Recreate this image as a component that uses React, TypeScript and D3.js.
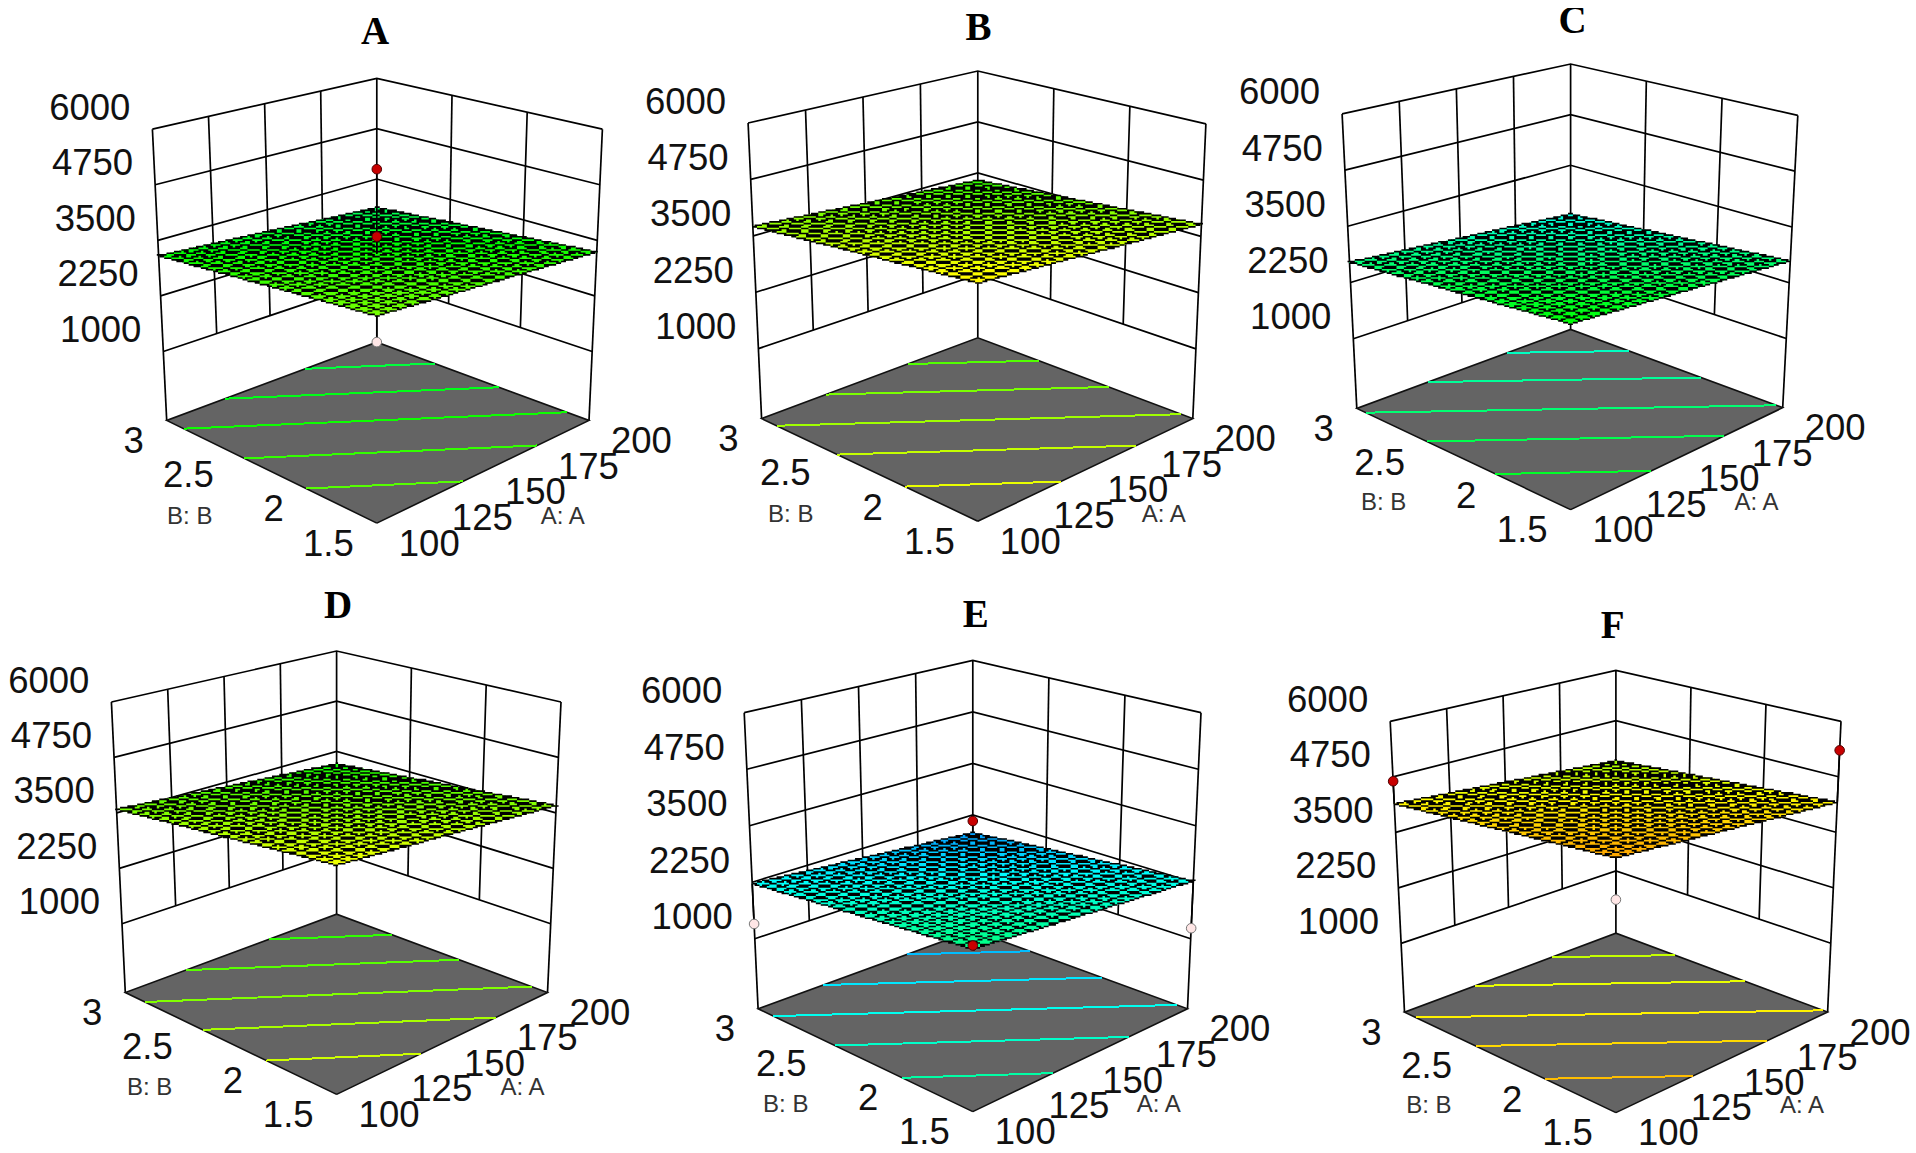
import React from "react";
import * as d3 from "d3";

// ---------- data ----------
const panelNames = ["A", "B", "C", "D", "E", "F"];
const zTicks = [1000, 2250, 3500, 4750, 6000];
const aTicks = [100, 125, 150, 175, 200];
const bTicks = [1.5, 2, 2.5, 3];
const bTickLabels = ["1.5", "2", "2.5", "3"];
const aTitle = "A: A";
const bTitle = "B: B";

// response surface height at the four corners of the A/B square
const zAtA100B15 = [3600, 4158, 3142, 4055, 2672, 4561];
const zAtA200B15 = [3238, 3767, 2737, 3664, 2276, 4173];
const zAtA100B3 = [3156, 3710, 2704, 3582, 2219, 4140];
const zAtA200B3 = [2794, 3319, 2299, 3191, 1823, 3752];

const contourA = [2927, 3064, 3197, 3336, 3465];
const contourB = [3456, 3603, 3745, 3880, 4019];
const contourC = [2430, 2580, 2725, 2860, 3001];
const contourD = [3327, 3480, 3632, 3771, 3912];
const contourE = [1955, 2109, 2256, 2396, 2537];
const contourF = [3879, 4020, 4165, 4294, 4431];
const contourLevels = [contourA, contourB, contourC, contourD, contourE, contourF];

// design points: [A, B, response]
const pointsA = [[150, 2.25, 5100], [150, 2.25, 3584], [150, 2.25, 1211]];
const pointsB: number[][] = [];
const pointsC: number[][] = [];
const pointsD: number[][] = [];
const pointsE = [[200, 3, 2103], [100, 1.5, 2743], [100, 3, 1327], [200, 1.5, 1232]];
const pointsF = [[100, 3, 4650], [200, 1.5, 5345], [150, 2.25, 1983]];
const designPoints = [pointsA, pointsB, pointsC, pointsD, pointsE, pointsF];

const colorStops = [1250, 2200, 3150, 4100, 5400];
const colorNames = ["#0000ff", "#00ffff", "#00ff00", "#ffff00", "#ff0000"];

// ---------- layout (pixels) ----------
type Pt = [number, number];
interface Frame {
  cx: number; topBack: number; floorBack: number; front: number;
  lt: Pt; rt: Pt; lf: Pt; rf: Pt; titleX: number; titleY: number;
}
const frames: Frame[] = [
  { cx: 376.8, topBack: 78.3, floorBack: 342.2, front: 523.1, lt: [152.4, 129.2], rt: [602.4, 129.2], lf: [166.7, 420.4], rf: [589, 420.4], titleX: 375, titleY: 30 },
  { cx: 977.8, topBack: 71, floorBack: 337.8, front: 521.2, lt: [748.1, 123], rt: [1205.9, 123.8], lf: [761.6, 418.6], rf: [1192.8, 418.6], titleX: 978.6, titleY: 26 },
  { cx: 1570.6, topBack: 64, floorBack: 329.4, front: 509.6, lt: [1342.1, 113.9], rt: [1797.8, 115.4], lf: [1356.8, 408.4], rf: [1782.7, 407.7], titleX: 1572.6, titleY: 19 },
  { cx: 336.6, topBack: 651, floorBack: 914.2, front: 1094.4, lt: [111.4, 702], rt: [561, 702], lf: [125.3, 992.5], rf: [547.5, 992.5], titleX: 338, titleY: 604.5 },
  { cx: 972.8, topBack: 660.4, floorBack: 930.4, front: 1111.6, lt: [744.2, 712.7], rt: [1201, 712.7], lf: [758.1, 1008.8], rf: [1187.5, 1008.8], titleX: 975.7, titleY: 613.5 },
  { cx: 1615.9, topBack: 670.4, floorBack: 933.2, front: 1112.6, lt: [1390.2, 721.3], rt: [1841, 721.3], lf: [1404.5, 1012.2], rf: [1827.6, 1012], titleX: 1612.6, titleY: 624 },
];
const GRID = 21;
const MESH_PX_W = 2.45;
const MESH_PX_H = 1.65;
const W = 1916;
const H = 1153;
const SANS = "'Liberation Sans', Arial, sans-serif";
const SERIF = "'Liberation Serif', 'Times New Roman', serif";

// ---------- scales ----------
const zScale = d3.scaleLinear().domain([-550, 6000]).range([0, 1]);
const aScale = d3.scaleLinear().domain([100, 200]).range([0, 1]);
const bScale = d3.scaleLinear().domain([1.5, 3]).range([0, 1]);
const colorScale = d3.scaleLinear<string>().domain(colorStops).range(colorNames).clamp(true);

const lerp = (p: Pt, q: Pt, t: number): Pt => [p[0] + (q[0] - p[0]) * t, p[1] + (q[1] - p[1]) * t];

// unit square -> quadrilateral: (0,0), (1,0), (1,1), (0,1)
function squareToQuad(p0: Pt, p1: Pt, p2: Pt, p3: Pt) {
  const dx1 = p1[0] - p2[0], dx2 = p3[0] - p2[0], sx = p0[0] - p1[0] + p2[0] - p3[0];
  const dy1 = p1[1] - p2[1], dy2 = p3[1] - p2[1], sy = p0[1] - p1[1] + p2[1] - p3[1];
  const den = dx1 * dy2 - dx2 * dy1;
  const g = (sx * dy2 - dx2 * sy) / den;
  const h = (dx1 * sy - sx * dy1) / den;
  const a = p1[0] - p0[0] + g * p1[0], b = p3[0] - p0[0] + h * p3[0], c = p0[0];
  const d = p1[1] - p0[1] + g * p1[1], e = p3[1] - p0[1] + h * p3[1], f = p0[1];
  return (u: number, v: number): Pt => {
    const w = g * u + h * v + 1;
    return [(a * u + b * v + c) / w, (d * u + e * v + f) / w];
  };
}

const pathOf = d3.line<Pt>().x((d) => d[0]).y((d) => d[1]);

// the mesh of the original is a coarse raster of lines: step them the same way
function steppedLines(lines: [Pt, Pt][]) {
  const keys = new Set<string>();
  lines.forEach(([a, b]) => {
    const k0 = Math.floor(Math.min(a[0], b[0]) / MESH_PX_W);
    const k1 = Math.floor(Math.max(a[0], b[0]) / MESH_PX_W);
    for (let k = k0; k <= k1; k++) {
      const t = Math.max(0, Math.min(1, ((k + 0.5) * MESH_PX_W - a[0]) / (b[0] - a[0])));
      keys.add(k + "," + Math.floor((a[1] + (b[1] - a[1]) * t) / MESH_PX_H));
    }
  });
  let d = "";
  keys.forEach((s) => {
    const [k, l] = s.split(",").map(Number);
    d += `M${k * MESH_PX_W} ${l * MESH_PX_H}h${MESH_PX_W}v${MESH_PX_H}h${-MESH_PX_W}z`;
  });
  return d;
}

function Panel({ index }: { index: number }) {
  const fr = frames[index];
  const fF: Pt = [fr.cx, fr.front];
  const fB: Pt = [fr.cx, fr.floorBack];
  const tB: Pt = [fr.cx, fr.topBack];
  const sideF = (fr.lf[1] + fr.rf[1]) / 2;
  const sideT = (fr.lt[1] + fr.rt[1]) / 2;
  const tF: Pt = [fr.cx, sideT + ((sideT - fr.topBack) * (fr.front - sideF)) / (sideF - fr.floorBack)];
  const floorH = squareToQuad(fF, fr.rf, fB, fr.lf);
  const topH = squareToQuad(tF, fr.rt, tB, fr.lt);

  const z00 = zAtA100B15[index], z10 = zAtA200B15[index], z01 = zAtA100B3[index], z11 = zAtA200B3[index];
  const surf = (u: number, v: number) =>
    z00 * (1 - u) * (1 - v) + z10 * u * (1 - v) + z01 * (1 - u) * v + z11 * u * v;
  const project = (u: number, v: number, z: number): Pt => lerp(floorH(u, v), topH(u, v), zScale(z));

  // ---- walls
  const leftWall = (a: number, z: number): Pt => {
    const t = 1 - aScale(a);
    return lerp(lerp(fB, fr.lf, t), lerp(tB, fr.lt, t), zScale(z));
  };
  const rightWall = (b: number, z: number): Pt => {
    const t = 1 - bScale(b);
    return lerp(lerp(fB, fr.rf, t), lerp(tB, fr.rt, t), zScale(z));
  };
  const zMin = zTicks[0], zMax = zTicks[zTicks.length - 1];
  const wallPaths: string[] = [];
  zTicks.forEach((z) => {
    wallPaths.push(pathOf([leftWall(100, z), leftWall(200, z), rightWall(1.5, z)])!);
  });
  aTicks.slice(1, -1).forEach((a) => wallPaths.push(pathOf([leftWall(a, zMin), leftWall(a, zMax)])!));
  bTicks.slice(1, -1).forEach((b) => wallPaths.push(pathOf([rightWall(b, zMin), rightWall(b, zMax)])!));
  wallPaths.push(pathOf([fr.lf, fr.lt])!, pathOf([fr.rf, fr.rt])!, pathOf([fB, tB])!);

  // ---- surface mesh
  const ticks = d3.range(GRID + 1).map((i) => i / GRID);
  const cells: { d: string; fill: string }[] = [];
  for (let i = 0; i < GRID; i++) {
    for (let j = 0; j < GRID; j++) {
      const u0 = ticks[i], u1 = ticks[i + 1], v0 = ticks[j], v1 = ticks[j + 1];
      const ring: Pt[] = [
        project(u0, v0, surf(u0, v0)), project(u1, v0, surf(u1, v0)),
        project(u1, v1, surf(u1, v1)), project(u0, v1, surf(u0, v1)), project(u0, v0, surf(u0, v0)),
      ];
      cells.push({ d: pathOf(ring)!, fill: colorScale(surf((u0 + u1) / 2, (v0 + v1) / 2)) });
    }
  }
  const meshSegments: [Pt, Pt][] = [];
  ticks.forEach((t) => {
    meshSegments.push([project(t, 0, surf(t, 0)), project(t, 1, surf(t, 1))]);
    meshSegments.push([project(0, t, surf(0, t)), project(1, t, surf(1, t))]);
  });
  const meshPath = steppedLines(meshSegments);

  // ---- floor contours, via d3.contours on the same surface
  const n = 41;
  const values: number[] = [];
  for (let j = 0; j < n; j++) for (let i = 0; i < n; i++) values.push(surf(i / (n - 1), j / (n - 1)));
  const contourGeoms = d3.contours().size([n, n]).thresholds(contourLevels[index])(values);
  const clamp01 = (x: number) => Math.max(0, Math.min(1, x));
  const edge = (p: number[]) => p[0] <= 0.5 || p[0] >= n - 0.5 || p[1] <= 0.5 || p[1] >= n - 0.5;
  const toFloor = (p: number[]) => floorH(clamp01((p[0] - 0.5) / (n - 1)), clamp01((p[1] - 0.5) / (n - 1)));
  const contourPaths: { d: string; stroke: string }[] = [];
  contourGeoms.forEach((g) => {
    g.coordinates.forEach((poly) => poly.forEach((ring) => {
      let run: Pt[] = [];
      const flush = () => {
        if (run.length > 1) contourPaths.push({ d: pathOf(run)!, stroke: colorScale(g.value) });
        run = [];
      };
      for (let k = 0; k < ring.length - 1; k++) {
        if (edge(ring[k]) && edge(ring[k + 1])) { flush(); continue; }
        if (run.length === 0) run.push(toFloor(ring[k]));
        run.push(toFloor(ring[k + 1]));
      }
      flush();
    }));
  });

  // ---- design points
  const pts = designPoints[index].map(([a, b, z]) => {
    const u = aScale(a), v = bScale(b);
    const sz = surf(u, v);
    return { pos: project(u, v, z), foot: project(u, v, sz), above: z > sz };
  });
  const drawPoint = (p: { pos: Pt; foot: Pt; above: boolean }, k: number) => (
    <g key={k}>
      <path d={pathOf([p.pos, p.foot])!} stroke="#000" strokeWidth={1.6} fill="none" />
      <circle cx={p.pos[0]} cy={p.pos[1]} r={4.8} fill={p.above ? "#c80000" : "#ffe6e6"} stroke={p.above ? "#500000" : "#777"} strokeWidth={1} />
    </g>
  );

  const numStyle = { fontFamily: SANS, fontSize: 36.5, fill: "#111" };
  return (
    <g>
      <g fill="none" stroke="#000" strokeWidth={1.7}>
        {wallPaths.map((d, i) => <path key={i} d={d} />)}
      </g>
      <path d={pathOf([fF, fr.rf, fB, fr.lf, fF])!} fill="#646464" stroke="#111" strokeWidth={1.6} />
      <g fill="none" strokeWidth={2} shapeRendering="crispEdges">
        {contourPaths.map((c, i) => <path key={i} d={c.d} stroke={c.stroke} />)}
      </g>
      {pts.filter((p) => !p.above).map(drawPoint)}
      <g shapeRendering="crispEdges">
        {cells.map((c, i) => <path key={i} d={c.d} fill={c.fill} stroke={c.fill} strokeWidth={0.5} />)}
      </g>
      <path d={meshPath} fill="#000" filter="url(#meshSoft)" />
      {pts.filter((p) => p.above).map(drawPoint)}

      {zTicks.map((z) => {
        const p = leftWall(100, z);
        return <text key={z} x={p[0] - 22} y={p[1] - 22} textAnchor="end" dominantBaseline="central" {...numStyle}>{z}</text>;
      })}
      {bTicks.map((b, i) => {
        const p = lerp(fF, fr.lf, bScale(b));
        return <text key={b} x={p[0] - 23} y={p[1] + 20} textAnchor="end" dominantBaseline="central" {...numStyle}>{bTickLabels[i]}</text>;
      })}
      {aTicks.map((a) => {
        const p = lerp(fF, fr.rf, aScale(a));
        return <text key={a} x={p[0] + 22} y={p[1] + 20} textAnchor="start" dominantBaseline="central" {...numStyle}>{a}</text>;
      })}
      <text x={fr.cx - 187} y={fr.front - 8} textAnchor="middle" dominantBaseline="central" fontFamily={SANS} fontSize={24} fill="#333">{bTitle}</text>
      <text x={fr.cx + 186} y={fr.front - 8} textAnchor="middle" dominantBaseline="central" fontFamily={SANS} fontSize={24} fill="#333">{aTitle}</text>
      <text x={fr.titleX} y={fr.titleY} textAnchor="middle" dominantBaseline="central" fontFamily={SERIF} fontWeight="bold" fontSize={39} fill="#000">{panelNames[index]}</text>
    </g>
  );
}

export default function App() {
  return (
    <svg width={W} height={H} viewBox={`0 0 ${W} ${H}`} style={{ position: "fixed", left: 0, top: 0, background: "#fff" }}>
      <defs>
        <filter id="meshSoft" x="-5%" y="-5%" width="110%" height="110%">
          <feGaussianBlur stdDeviation="0.35" />
        </filter>
      </defs>
      {panelNames.map((_, i) => <Panel key={i} index={i} />)}
      <rect x={0} y={0} width={W} height={8} fill="#fff" />
    </svg>
  );
}
